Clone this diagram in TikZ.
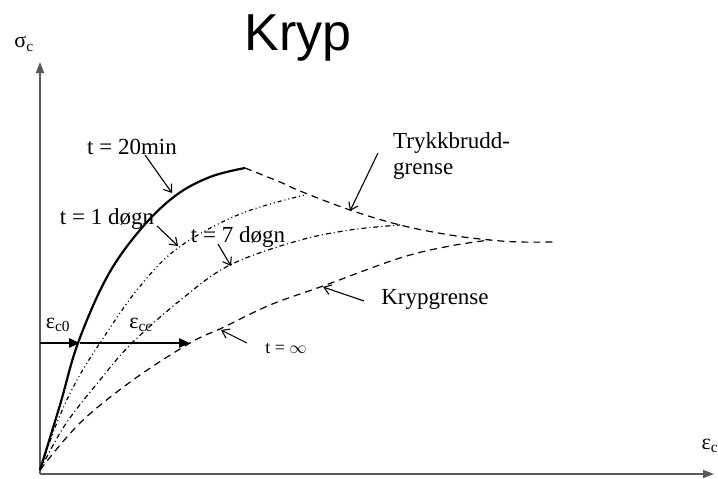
\documentclass[tikz,border=0pt]{standalone}
\usepackage{fontspec}
\setmainfont{Liberation Serif}
\newfontfamily\titlefont{Liberation Sans}
\usetikzlibrary{arrows.meta}
\tikzset{
  axis/.style={line width=1.6pt, draw=black!65, -{Triangle[length=11pt,width=8pt]}},
  lbl/.style={font=\fontsize{23}{26}\selectfont, inner sep=0pt},
  symlbl/.style={font=\fontsize{22}{24}\selectfont, inner sep=0pt},
  lblarrow/.style={line width=1.1pt, -{Straight Barb[length=7pt,width=10pt]}},
  strainarrow/.style={line width=2.6pt, -{Triangle[length=11pt,width=9pt]}},
  crv20/.style={line width=2.2pt},
  crv1/.style={line width=1.2pt, dash pattern=on 4pt off 3pt on 1pt off 3pt on 1pt off 3pt},
  crv7/.style={line width=1.2pt, dash pattern=on 5pt off 3pt on 1pt off 3pt},
  crvinf/.style={line width=1.2pt, dash pattern=on 7pt off 5pt},
}
\begin{document}
\begin{tikzpicture}[x=1pt,y=-1pt]
\useasboundingbox (0,0) rectangle (718,479);
% title
\node[font=\titlefont\fontsize{52}{56}\selectfont, inner sep=0pt] (title) at (298,38) {Kryp};
% axes
\coordinate (O) at (40,474);
\coordinate (ytop) at (40,62);
\coordinate (xend) at (714,474);
\draw[axis] (O) -- (ytop);
\draw[axis] (O) -- (xend);
\node[symlbl] (sig) at (24,44) {σ\textsubscript{c}};
\node[symlbl] (eps) at (710,446) {ε\textsubscript{c}};
% curves
\draw[crv20] plot[smooth, tension=0.6] coordinates {(40,470) (60,405) (78,343) (107,277) (140,230) (175,196) (210,177) (245,168)};
\draw[crv1] plot[smooth, tension=0.6] coordinates {(40,470) (58,420) (77,380) (100,343) (137,290) (178,248) (240,214) (305,195)};
\draw[crv7] plot[smooth, tension=0.6] coordinates {(40,470) (65,425) (100,380) (132,343) (183,298) (230,265) (297,241) (350,230) (400,225)};
\draw[crvinf] plot[smooth, tension=0.6] coordinates {(40,470) (80,423) (133,380) (190,343) (222,328) (270,305) (323,286) (400,258) (450,246) (490,240)};
\draw[crvinf] plot[smooth, tension=0.6] coordinates {(245,168) (280,182) (300,191) (350,210) (400,225) (450,235) (490,240) (520,242) (555,242)};
% strain arrows
\coordinate (s0) at (40,343);
\coordinate (s1) at (80,343);
\coordinate (s2) at (190,343);
\draw[strainarrow] (s0) -- (s1);
\draw[strainarrow] (s1) -- (s2);
\node[symlbl] (ec0) at (58,325) {ε\textsubscript{c0}};
\node[symlbl] (ecc) at (141,325) {ε\textsubscript{cc}};
% labels
\node[lbl] (l20) at (132,147) {t = 20min};
\node[lbl] (l1) at (107,219) {t = 1 døgn};
\node[lbl] (l7) at (238,237) {t = 7 døgn};
\node[lbl, align=left, anchor=north west] (ltb) at (393,132) {Trykkbrudd-\\grense};
\node[lbl] (lkg) at (435,299) {Krypgrense};
\node[font=\fontsize{18}{20}\selectfont, inner sep=0pt] (linf) at (286,349) {t = $\infty$};
% label arrows
\coordinate (a20s) at (145,155); \coordinate (a20e) at (172,193);
\coordinate (a1s) at (157,226); \coordinate (a1e) at (178,246);
\coordinate (a7s) at (218,244); \coordinate (a7e) at (231,266);
\coordinate (atbs) at (378,153); \coordinate (atbe) at (350,211);
\coordinate (akgs) at (364,301); \coordinate (akge) at (323,287);
\coordinate (ainfs) at (247,343); \coordinate (ainfe) at (221,330);
\draw[lblarrow] (a20s) -- (a20e);
\draw[lblarrow] (a1s) -- (a1e);
\draw[lblarrow] (a7s) -- (a7e);
\draw[lblarrow] (atbs) -- (atbe);
\draw[lblarrow] (akgs) -- (akge);
\draw[lblarrow] (ainfs) -- (ainfe);
\end{tikzpicture}
\end{document}
